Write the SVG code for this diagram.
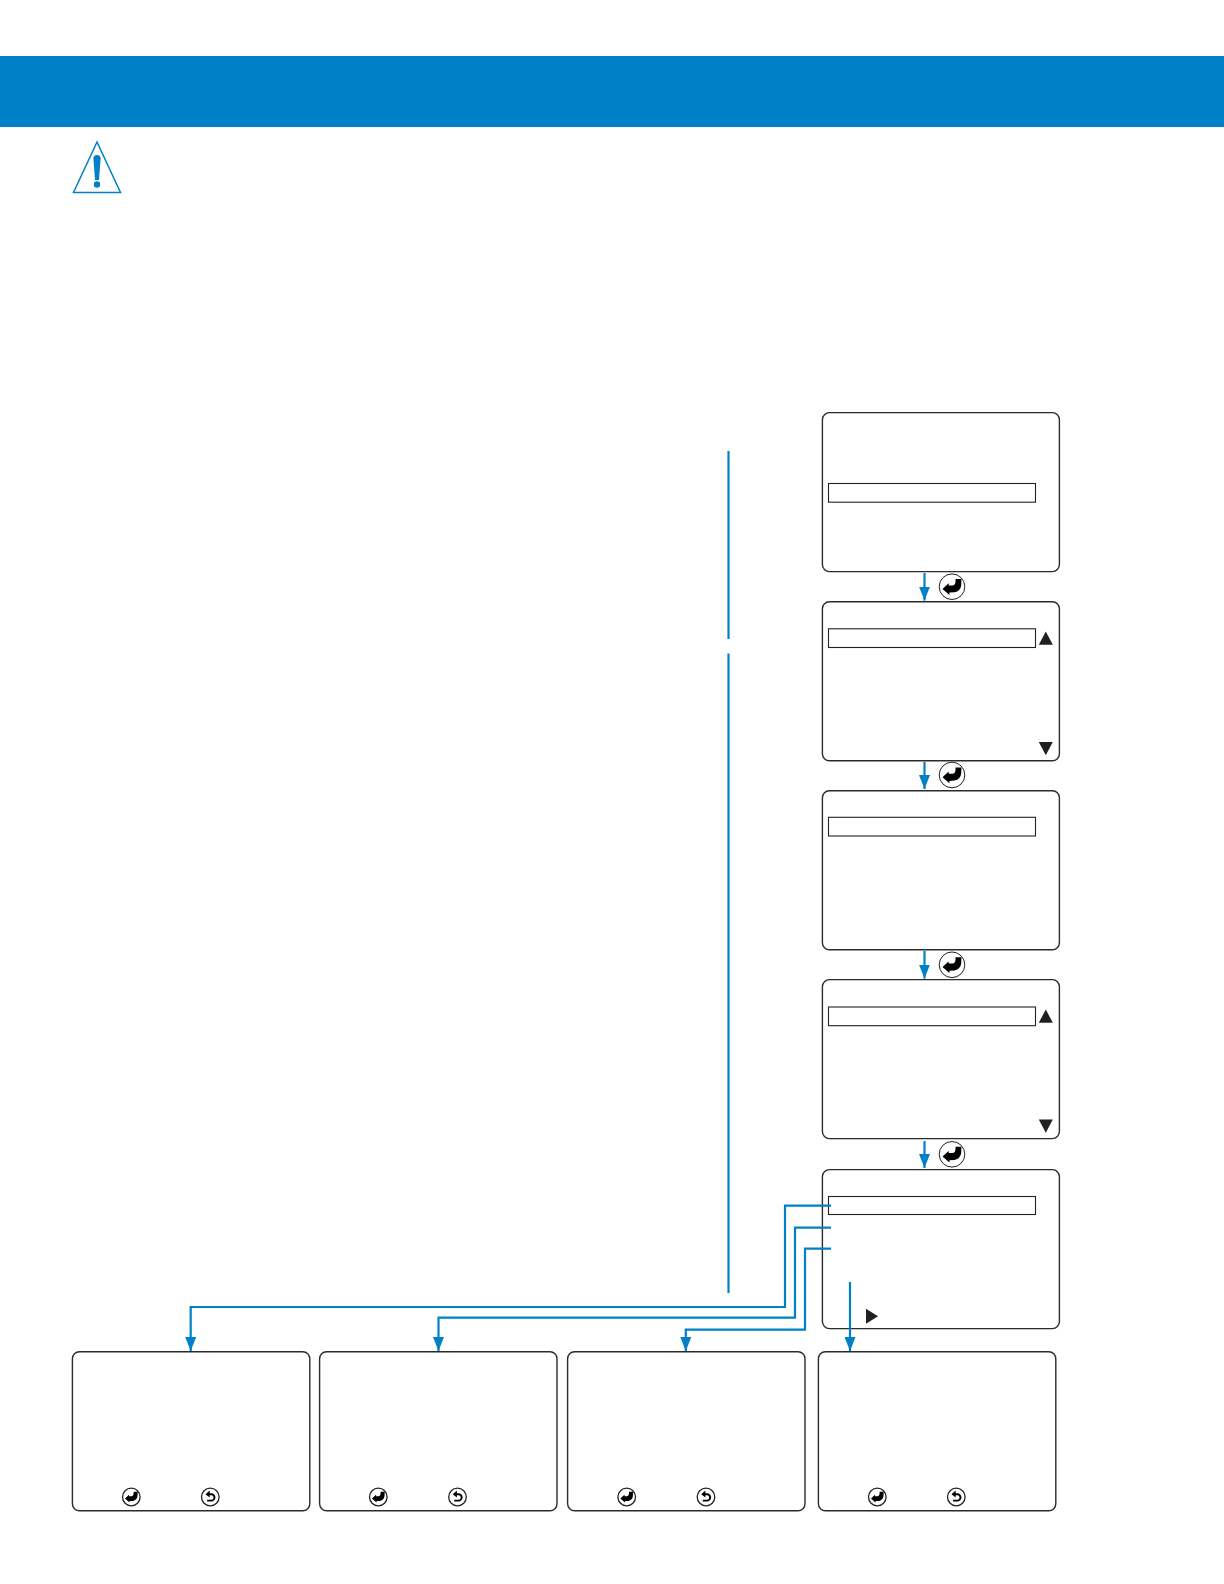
<svg xmlns="http://www.w3.org/2000/svg" xmlns:xlink="http://www.w3.org/1999/xlink" width="1224" height="1584" viewBox="0 0 1224 1584">
<style>
.box{fill:#fff;stroke:#2b2b2b;stroke-width:1.4}
.sel{fill:#fff;stroke:#222;stroke-width:1.1}
.tri{fill:#231f20}
.conn{fill:none;stroke:#0080c6;stroke-width:2.2}
.rule{stroke:#0080c6;stroke-width:2.2;fill:none}
</style>
<defs>
<marker id="ah" markerUnits="userSpaceOnUse" markerWidth="14" markerHeight="11" refX="14" refY="5.5" orient="auto" viewBox="0 0 14 11"><path d="M0 0L14 5.5L0 11Z" fill="#0080c6"/></marker>
<g id="enter">
<circle r="12.8" fill="#fff" stroke="#222" stroke-width="1"/>
<path d="M-9.5 2.2L-3.4 -3.4L-3.2 -1.2L0.5 -1.2Q3.2 -1.5 3.4 -4.5L3.6 -7.6L9.4 -7.6L9.2 -1.5Q8.5 4.5 2.5 5.6L-2.5 5.9L-2.6 8.2Z" fill="#000"/>
</g>
<g id="enterS">
<circle r="8.8" fill="#fff" stroke="#222" stroke-width="1.3"/>
<path d="M-6.3 1.6L-2.3 -2.2L-2.1 -0.8L0.4 -0.8Q2.1 -1 2.2 -3L2.4 -5.2L6.4 -5.2L6.2 -1Q5.7 3.2 1.7 3.9L-1.7 4L-1.8 5.6Z" fill="#000"/>
</g>
<g id="back">
<circle r="8.8" fill="#fff" stroke="#222" stroke-width="1.3"/>
<path d="M-2.4 -2.8L1 -2.8A3.1 3.1 0 0 1 1 3.6L-3.2 3.6" fill="none" stroke="#000" stroke-width="1.9"/>
<path d="M-0.6 -6.4L-4.8 -2.8L-0.6 0.6Z" fill="#000"/>
</g>
</defs>
<rect id="header" x="0" y="56" width="1224" height="71" fill="#0080c6"/>
<g id="warning">
<path d="M97 142L120.5 192.5L73.5 192.5Z" fill="#fff" stroke="#0080c6" stroke-width="1.5" stroke-linejoin="miter"/>
<path d="M93.4 158.5Q93.4 155 97 155Q100.6 155 100.6 158.5L99 180L95 180Z" fill="#0080c6"/>
<circle cx="97" cy="184.5" r="3.2" fill="#0080c6"/>
</g>
<g id="rules">
<line class="rule" x1="728.5" y1="451" x2="728.5" y2="639"/>
<line class="rule" x1="728.5" y1="653.5" x2="728.5" y2="1293"/>
</g>
<g id="menu1">
<rect class="box" x="822.4" y="412.6" width="237" height="159" rx="7"/>
<rect class="sel" x="828.5" y="483.5" width="207" height="18.7"/>
</g>
<g id="menu2">
<rect class="box" x="822.4" y="601.8" width="237" height="159" rx="7"/>
<rect class="sel" x="828.5" y="628.8" width="207" height="18.7"/>
<path class="tri" d="M1045.8 631.5L1052.8 644.7L1038.8 644.7Z"/>
<path class="tri" d="M1038.8 742L1052.8 742L1045.8 755.2Z"/>
</g>
<g id="menu3">
<rect class="box" x="822.4" y="790.8" width="237" height="159" rx="7"/>
<rect class="sel" x="828.5" y="817.3" width="207" height="18.7"/>
</g>
<g id="menu4">
<rect class="box" x="822.4" y="979.6" width="237" height="159" rx="7"/>
<rect class="sel" x="828.5" y="1007" width="207" height="18.7"/>
<path class="tri" d="M1045.8 1009.5L1052.8 1022.7L1038.8 1022.7Z"/>
<path class="tri" d="M1038.8 1119.5L1052.8 1119.5L1045.8 1132.7Z"/>
</g>
<g id="menu5">
<rect class="box" x="822.4" y="1169.6" width="237" height="159" rx="7"/>
<rect class="sel" x="828.5" y="1196.5" width="207" height="18"/>
<path class="tri" d="M866 1308.7L878 1316.2L866 1323.7Z"/>
</g>
<g id="screen1">
<rect class="box" x="72.4" y="1351.8" width="237.4" height="159" rx="7"/>
<use xlink:href="#enterS" href="#enterS" x="131.3" y="1497"/>
<use xlink:href="#back" href="#back" x="210.3" y="1497"/>
</g>
<g id="screen2">
<rect class="box" x="319.6" y="1351.8" width="237.4" height="159" rx="7"/>
<use xlink:href="#enterS" href="#enterS" x="378.3" y="1497"/>
<use xlink:href="#back" href="#back" x="457.5" y="1497"/>
</g>
<g id="screen3">
<rect class="box" x="567.6" y="1351.8" width="237.4" height="159" rx="7"/>
<use xlink:href="#enterS" href="#enterS" x="626.7" y="1497"/>
<use xlink:href="#back" href="#back" x="706" y="1497"/>
</g>
<g id="screen4">
<rect class="box" x="818.4" y="1351.8" width="237.4" height="159" rx="7"/>
<use xlink:href="#enterS" href="#enterS" x="877.3" y="1497"/>
<use xlink:href="#back" href="#back" x="956.3" y="1497"/>
</g>
<g id="keys">
<use xlink:href="#enter" href="#enter" x="952" y="586.7"/>
<use xlink:href="#enter" href="#enter" x="952" y="775"/>
<use xlink:href="#enter" href="#enter" x="952" y="964.8"/>
<use xlink:href="#enter" href="#enter" x="952" y="1154.3"/>
</g>
<g id="connectors">
<path class="conn" marker-end="url(#ah)" d="M924.5 573V600.6"/>
<path class="conn" marker-end="url(#ah)" d="M924.5 762V789"/>
<path class="conn" marker-end="url(#ah)" d="M924.5 951V978.6"/>
<path class="conn" marker-end="url(#ah)" d="M924.5 1141V1168"/>
<path class="conn" marker-end="url(#ah)" d="M831 1205.7H785V1307H190.7V1351"/>
<path class="conn" marker-end="url(#ah)" d="M831 1227.7H795V1317.7H438.5V1351"/>
<path class="conn" marker-end="url(#ah)" d="M831 1248.7H805V1329.7H685.8V1351"/>
<path class="conn" marker-end="url(#ah)" d="M850 1282V1351"/>
</g>
</svg>
